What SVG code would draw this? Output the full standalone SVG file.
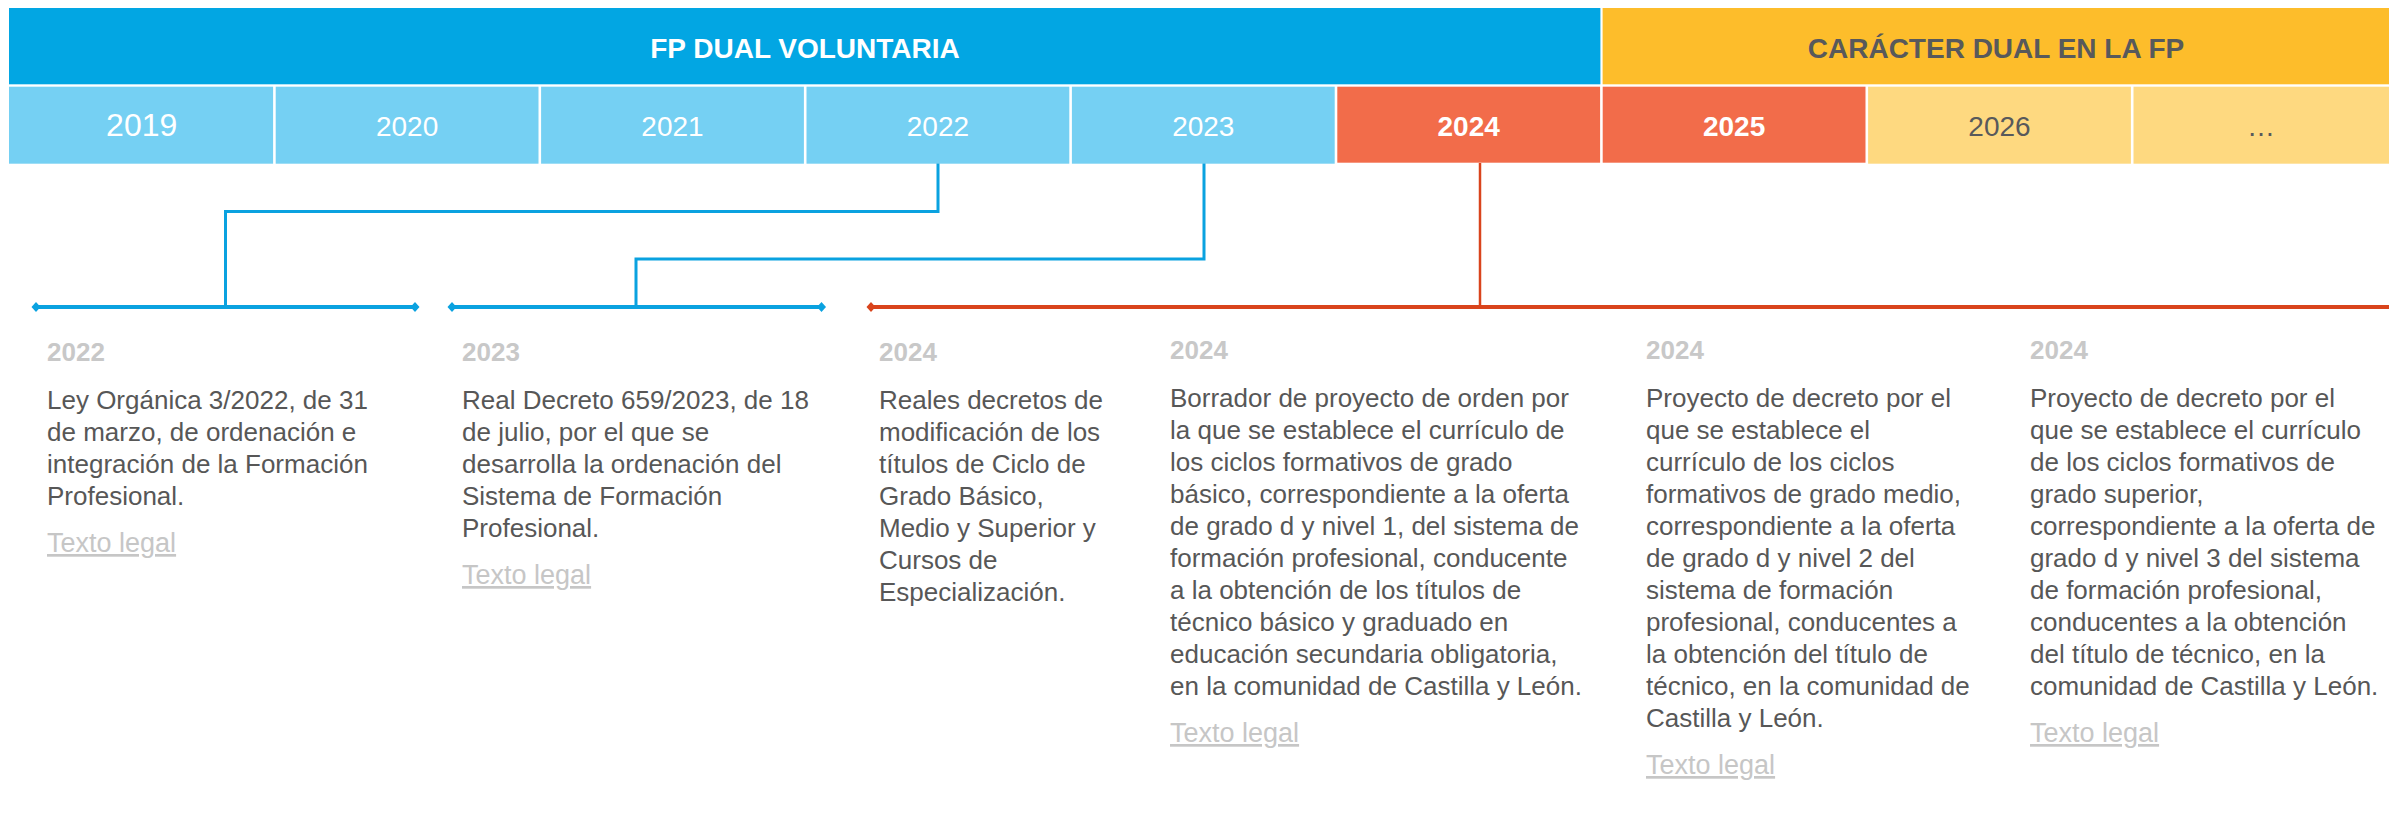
<svg xmlns="http://www.w3.org/2000/svg" width="2389" height="814" viewBox="0 0 2389 814">
<style>
.ban{font-family:"Liberation Sans",Arial,sans-serif;font-size:28px;font-weight:bold;text-anchor:middle}
.yr{font-family:"Liberation Sans",Arial,sans-serif;font-size:28px;text-anchor:middle}
.hd{font-family:"Liberation Sans",Arial,sans-serif;font-size:26px;font-weight:bold;fill:#C8C8C8}
.bd{font-family:"Liberation Sans",Arial,sans-serif;font-size:26px;fill:#575757}
.lk{font-family:"Liberation Sans",Arial,sans-serif;font-size:27px;fill:#C6C6C6;text-decoration:underline}
.cb{fill:none;stroke:#0AA2E0;stroke-width:3}
.cr{fill:none;stroke:#D9441C;stroke-width:2.5}
.lb{stroke:#0AA2E0;stroke-width:4}
.lr{stroke:#D9441C;stroke-width:4}
</style>
<defs>
<marker id="db" markerUnits="userSpaceOnUse" markerWidth="10" markerHeight="12" refX="5" refY="6" orient="0"><path d="M0.5 6 L5 1 L9.5 6 L5 11 Z" fill="#0AA2E0"/></marker>
<marker id="dr" markerUnits="userSpaceOnUse" markerWidth="10" markerHeight="12" refX="5" refY="6" orient="0"><path d="M0.5 6 L5 1 L9.5 6 L5 11 Z" fill="#D9441C"/></marker>
</defs>
<rect width="2389" height="814" fill="#FFFFFF"/>
<g id="banner-voluntaria">
<rect x="9" y="8" width="1591.4" height="76.3" fill="#02A6E3"/>
<text class="ban" x="805" y="58" fill="#FFFFFF">FP DUAL VOLUNTARIA</text>
</g>
<g id="banner-caracter">
<rect x="1602.6" y="8" width="786.4" height="76.3" fill="#FDBD2B"/>
<text class="ban" x="1996" y="58" fill="#58595B">CARÁCTER DUAL EN LA FP</text>
</g>
<g id="year-2019"><rect x="9" y="86.7" width="264.1" height="77" fill="#75D0F3"/><text class="yr" x="141.7" y="136" fill="#FFFFFF" style="font-size:32px">2019</text></g>
<g id="year-2020"><rect x="275.7" y="86.7" width="262.8" height="77" fill="#75D0F3"/><text class="yr" x="407.1" y="136" fill="#FFFFFF">2020</text></g>
<g id="year-2021"><rect x="541.1" y="86.7" width="262.8" height="77" fill="#75D0F3"/><text class="yr" x="672.5" y="136" fill="#FFFFFF">2021</text></g>
<g id="year-2022"><rect x="806.5" y="86.7" width="262.8" height="77" fill="#75D0F3"/><text class="yr" x="937.9" y="136" fill="#FFFFFF">2022</text></g>
<g id="year-2023"><rect x="1071.9" y="86.7" width="262.8" height="77" fill="#75D0F3"/><text class="yr" x="1203.3" y="136" fill="#FFFFFF">2023</text></g>
<g id="year-2024"><rect x="1337.3" y="86.7" width="262.8" height="76" fill="#F26C4A"/><text class="yr" x="1468.7" y="136" fill="#FFFFFF" font-weight="bold">2024</text></g>
<g id="year-2025"><rect x="1602.7" y="86.7" width="262.8" height="76" fill="#F26C4A"/><text class="yr" x="1734.1" y="136" fill="#FFFFFF" font-weight="bold">2025</text></g>
<g id="year-2026"><rect x="1868.1" y="86.7" width="262.8" height="77" fill="#FED980"/><text class="yr" x="1999.5" y="136" fill="#58595B">2026</text></g>
<g id="year-more"><rect x="2133.5" y="86.7" width="255.5" height="77" fill="#FED980"/><text class="yr" x="2261" y="136" fill="#58595B">…</text></g>
<g id="connectors">
<path class="cb" d="M938 163.5 V211.5 H225.5 V307"/>
<path class="cb" d="M1204 163.5 V259 H636 V307"/>
<path class="cr" d="M1480 163 V307"/>
<line class="lb" x1="36" y1="307" x2="415" y2="307" marker-start="url(#db)" marker-end="url(#db)"/>
<line class="lb" x1="452" y1="307" x2="821.5" y2="307" marker-start="url(#db)" marker-end="url(#db)"/>
<line class="lr" x1="871" y1="307" x2="2389" y2="307" marker-start="url(#dr)"/>
</g>
<g id="entry-2022">
<text class="hd" x="47" y="361">2022</text>
<text class="bd" x="47" y="409"><tspan x="47">Ley Orgánica 3/2022, de 31</tspan><tspan x="47" dy="32">de marzo, de ordenación e</tspan><tspan x="47" dy="32">integración de la Formación</tspan><tspan x="47" dy="32">Profesional.</tspan></text>
<text class="lk" x="47" y="552">Texto legal</text>
</g>
<g id="entry-2023">
<text class="hd" x="462" y="361">2023</text>
<text class="bd" x="462" y="409"><tspan x="462">Real Decreto 659/2023, de 18</tspan><tspan x="462" dy="32">de julio, por el que se</tspan><tspan x="462" dy="32">desarrolla la ordenación del</tspan><tspan x="462" dy="32">Sistema de Formación</tspan><tspan x="462" dy="32">Profesional.</tspan></text>
<text class="lk" x="462" y="584">Texto legal</text>
</g>
<g id="entry-2024-reales">
<text class="hd" x="879" y="361">2024</text>
<text class="bd" x="879" y="409"><tspan x="879">Reales decretos de</tspan><tspan x="879" dy="32">modificación de los</tspan><tspan x="879" dy="32">títulos de Ciclo de</tspan><tspan x="879" dy="32">Grado Básico,</tspan><tspan x="879" dy="32">Medio y Superior y</tspan><tspan x="879" dy="32">Cursos de</tspan><tspan x="879" dy="32">Especialización.</tspan></text>
</g>
<g id="entry-2024-basico">
<text class="hd" x="1170" y="359">2024</text>
<text class="bd" x="1170" y="407"><tspan x="1170">Borrador de proyecto de orden por</tspan><tspan x="1170" dy="32">la que se establece el currículo de</tspan><tspan x="1170" dy="32">los ciclos formativos de grado</tspan><tspan x="1170" dy="32">básico, correspondiente a la oferta</tspan><tspan x="1170" dy="32">de grado d y nivel 1, del sistema de</tspan><tspan x="1170" dy="32">formación profesional, conducente</tspan><tspan x="1170" dy="32">a la obtención de los títulos de</tspan><tspan x="1170" dy="32">técnico básico y graduado en</tspan><tspan x="1170" dy="32">educación secundaria obligatoria,</tspan><tspan x="1170" dy="32">en la comunidad de Castilla y León.</tspan></text>
<text class="lk" x="1170" y="742">Texto legal</text>
</g>
<g id="entry-2024-medio">
<text class="hd" x="1646" y="359">2024</text>
<text class="bd" x="1646" y="407"><tspan x="1646">Proyecto de decreto por el</tspan><tspan x="1646" dy="32">que se establece el</tspan><tspan x="1646" dy="32">currículo de los ciclos</tspan><tspan x="1646" dy="32">formativos de grado medio,</tspan><tspan x="1646" dy="32">correspondiente a la oferta</tspan><tspan x="1646" dy="32">de grado d y nivel 2 del</tspan><tspan x="1646" dy="32">sistema de formación</tspan><tspan x="1646" dy="32">profesional, conducentes a</tspan><tspan x="1646" dy="32">la obtención del título de</tspan><tspan x="1646" dy="32">técnico, en la comunidad de</tspan><tspan x="1646" dy="32">Castilla y León.</tspan></text>
<text class="lk" x="1646" y="774">Texto legal</text>
</g>
<g id="entry-2024-superior">
<text class="hd" x="2030" y="359">2024</text>
<text class="bd" x="2030" y="407"><tspan x="2030">Proyecto de decreto por el</tspan><tspan x="2030" dy="32">que se establece el currículo</tspan><tspan x="2030" dy="32">de los ciclos formativos de</tspan><tspan x="2030" dy="32">grado superior,</tspan><tspan x="2030" dy="32">correspondiente a la oferta de</tspan><tspan x="2030" dy="32">grado d y nivel 3 del sistema</tspan><tspan x="2030" dy="32">de formación profesional,</tspan><tspan x="2030" dy="32">conducentes a la obtención</tspan><tspan x="2030" dy="32">del título de técnico, en la</tspan><tspan x="2030" dy="32">comunidad de Castilla y León.</tspan></text>
<text class="lk" x="2030" y="742">Texto legal</text>
</g>
</svg>
